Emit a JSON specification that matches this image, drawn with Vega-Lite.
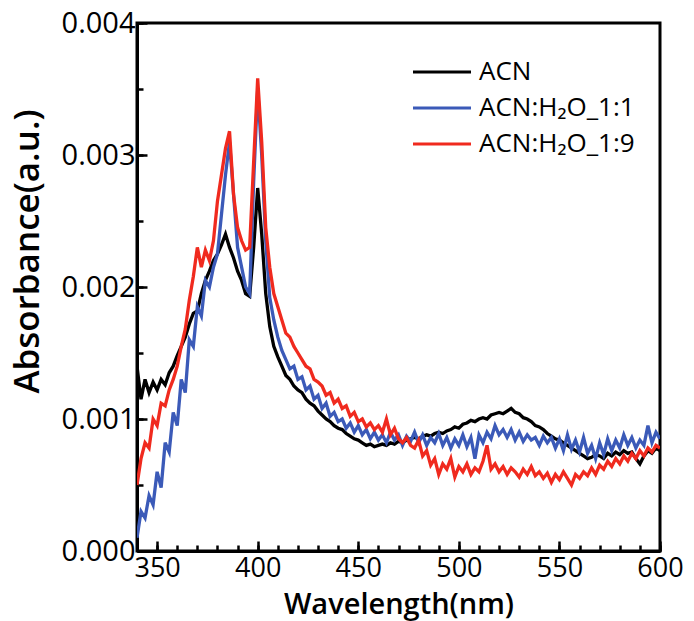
{
"$schema": "https://vega.github.io/schema/vega-lite/v6.json",
"width": 523, "height": 528,
"autosize": {"type": "none"},
"padding": {"left": 137, "top": 23, "right": 34, "bottom": 70},
"config": {"view": {"stroke": "black", "strokeWidth": 3}, "font": "Open Sans"},
"data": {"values": [
{"w":340,"ACN":0.00140,"ACN:H₂O_1:1":0.00010,"ACN:H₂O_1:9":0.00050},
{"w":342,"ACN":0.00115,"ACN:H₂O_1:1":0.00030,"ACN:H₂O_1:9":0.00070},
{"w":344,"ACN":0.00130,"ACN:H₂O_1:1":0.00025,"ACN:H₂O_1:9":0.00082},
{"w":346,"ACN":0.00120,"ACN:H₂O_1:1":0.00042,"ACN:H₂O_1:9":0.00078},
{"w":348,"ACN":0.00128,"ACN:H₂O_1:1":0.00035,"ACN:H₂O_1:9":0.00100},
{"w":350,"ACN":0.00122,"ACN:H₂O_1:1":0.00060,"ACN:H₂O_1:9":0.00095},
{"w":352,"ACN":0.00130,"ACN:H₂O_1:1":0.00048,"ACN:H₂O_1:9":0.00112},
{"w":354,"ACN":0.00126,"ACN:H₂O_1:1":0.00082,"ACN:H₂O_1:9":0.00110},
{"w":356,"ACN":0.00135,"ACN:H₂O_1:1":0.00075,"ACN:H₂O_1:9":0.00122},
{"w":358,"ACN":0.00140,"ACN:H₂O_1:1":0.00105,"ACN:H₂O_1:9":0.00130},
{"w":360,"ACN":0.00148,"ACN:H₂O_1:1":0.00095,"ACN:H₂O_1:9":0.00140},
{"w":362,"ACN":0.00155,"ACN:H₂O_1:1":0.00130,"ACN:H₂O_1:9":0.00155},
{"w":364,"ACN":0.00162,"ACN:H₂O_1:1":0.00120,"ACN:H₂O_1:9":0.00168},
{"w":366,"ACN":0.00172,"ACN:H₂O_1:1":0.00160,"ACN:H₂O_1:9":0.00190},
{"w":368,"ACN":0.00180,"ACN:H₂O_1:1":0.00155,"ACN:H₂O_1:9":0.00208},
{"w":370,"ACN":0.00182,"ACN:H₂O_1:1":0.00185,"ACN:H₂O_1:9":0.00230},
{"w":372,"ACN":0.00195,"ACN:H₂O_1:1":0.00178,"ACN:H₂O_1:9":0.00215},
{"w":374,"ACN":0.00205,"ACN:H₂O_1:1":0.00205,"ACN:H₂O_1:9":0.00228},
{"w":376,"ACN":0.00212,"ACN:H₂O_1:1":0.00200,"ACN:H₂O_1:9":0.00220},
{"w":378,"ACN":0.00220,"ACN:H₂O_1:1":0.00215,"ACN:H₂O_1:9":0.00235},
{"w":380,"ACN":0.00225,"ACN:H₂O_1:1":0.00225,"ACN:H₂O_1:9":0.00265},
{"w":382,"ACN":0.00232,"ACN:H₂O_1:1":0.00255,"ACN:H₂O_1:9":0.00285},
{"w":384,"ACN":0.00240,"ACN:H₂O_1:1":0.00285,"ACN:H₂O_1:9":0.00305},
{"w":386,"ACN":0.00230,"ACN:H₂O_1:1":0.00310,"ACN:H₂O_1:9":0.00318},
{"w":388,"ACN":0.00222,"ACN:H₂O_1:1":0.00270,"ACN:H₂O_1:9":0.00270},
{"w":390,"ACN":0.00212,"ACN:H₂O_1:1":0.00230,"ACN:H₂O_1:9":0.00245},
{"w":392,"ACN":0.00205,"ACN:H₂O_1:1":0.00215,"ACN:H₂O_1:9":0.00235},
{"w":394,"ACN":0.00195,"ACN:H₂O_1:1":0.00200,"ACN:H₂O_1:9":0.00228},
{"w":396,"ACN":0.00193,"ACN:H₂O_1:1":0.00195,"ACN:H₂O_1:9":0.00230},
{"w":398,"ACN":0.00230,"ACN:H₂O_1:1":0.00280,"ACN:H₂O_1:9":0.00295},
{"w":400,"ACN":0.00275,"ACN:H₂O_1:1":0.00350,"ACN:H₂O_1:9":0.00358},
{"w":402,"ACN":0.00240,"ACN:H₂O_1:1":0.00300,"ACN:H₂O_1:9":0.00310},
{"w":404,"ACN":0.00195,"ACN:H₂O_1:1":0.00235,"ACN:H₂O_1:9":0.00245},
{"w":406,"ACN":0.00170,"ACN:H₂O_1:1":0.00192,"ACN:H₂O_1:9":0.00215},
{"w":408,"ACN":0.00155,"ACN:H₂O_1:1":0.00175,"ACN:H₂O_1:9":0.00195},
{"w":410,"ACN":0.00147,"ACN:H₂O_1:1":0.00162,"ACN:H₂O_1:9":0.00185},
{"w":412,"ACN":0.00140,"ACN:H₂O_1:1":0.00152,"ACN:H₂O_1:9":0.00175},
{"w":414,"ACN":0.00133,"ACN:H₂O_1:1":0.00145,"ACN:H₂O_1:9":0.00165},
{"w":416,"ACN":0.00130,"ACN:H₂O_1:1":0.00138,"ACN:H₂O_1:9":0.00162},
{"w":418,"ACN":0.00125,"ACN:H₂O_1:1":0.00140,"ACN:H₂O_1:9":0.00155},
{"w":420,"ACN":0.00122,"ACN:H₂O_1:1":0.00130,"ACN:H₂O_1:9":0.00150},
{"w":422,"ACN":0.00120,"ACN:H₂O_1:1":0.00132,"ACN:H₂O_1:9":0.00145},
{"w":424,"ACN":0.00115,"ACN:H₂O_1:1":0.00122,"ACN:H₂O_1:9":0.00140},
{"w":426,"ACN":0.00112,"ACN:H₂O_1:1":0.00125,"ACN:H₂O_1:9":0.00138},
{"w":428,"ACN":0.00110,"ACN:H₂O_1:1":0.00115,"ACN:H₂O_1:9":0.00130},
{"w":430,"ACN":0.00106,"ACN:H₂O_1:1":0.00118,"ACN:H₂O_1:9":0.00128},
{"w":432,"ACN":0.00103,"ACN:H₂O_1:1":0.00108,"ACN:H₂O_1:9":0.00125},
{"w":434,"ACN":0.00100,"ACN:H₂O_1:1":0.00112,"ACN:H₂O_1:9":0.00118},
{"w":436,"ACN":0.00098,"ACN:H₂O_1:1":0.00102,"ACN:H₂O_1:9":0.00120},
{"w":438,"ACN":0.00095,"ACN:H₂O_1:1":0.00105,"ACN:H₂O_1:9":0.00112},
{"w":440,"ACN":0.00093,"ACN:H₂O_1:1":0.00098,"ACN:H₂O_1:9":0.00115},
{"w":442,"ACN":0.00092,"ACN:H₂O_1:1":0.00100,"ACN:H₂O_1:9":0.00108},
{"w":444,"ACN":0.00089,"ACN:H₂O_1:1":0.00093,"ACN:H₂O_1:9":0.00110},
{"w":446,"ACN":0.00087,"ACN:H₂O_1:1":0.00097,"ACN:H₂O_1:9":0.00102},
{"w":448,"ACN":0.00085,"ACN:H₂O_1:1":0.00090,"ACN:H₂O_1:9":0.00105},
{"w":450,"ACN":0.00084,"ACN:H₂O_1:1":0.00095,"ACN:H₂O_1:9":0.00098},
{"w":452,"ACN":0.00082,"ACN:H₂O_1:1":0.00088,"ACN:H₂O_1:9":0.00100},
{"w":454,"ACN":0.00080,"ACN:H₂O_1:1":0.00092,"ACN:H₂O_1:9":0.00094},
{"w":456,"ACN":0.00081,"ACN:H₂O_1:1":0.00085,"ACN:H₂O_1:9":0.00097},
{"w":458,"ACN":0.00079,"ACN:H₂O_1:1":0.00090,"ACN:H₂O_1:9":0.00092},
{"w":460,"ACN":0.00080,"ACN:H₂O_1:1":0.00084,"ACN:H₂O_1:9":0.00095},
{"w":462,"ACN":0.00081,"ACN:H₂O_1:1":0.00088,"ACN:H₂O_1:9":0.00090},
{"w":464,"ACN":0.00080,"ACN:H₂O_1:1":0.00082,"ACN:H₂O_1:9":0.00100},
{"w":466,"ACN":0.00082,"ACN:H₂O_1:1":0.00090,"ACN:H₂O_1:9":0.00088},
{"w":468,"ACN":0.00081,"ACN:H₂O_1:1":0.00084,"ACN:H₂O_1:9":0.00093},
{"w":470,"ACN":0.00083,"ACN:H₂O_1:1":0.00088,"ACN:H₂O_1:9":0.00085},
{"w":472,"ACN":0.00082,"ACN:H₂O_1:1":0.00080,"ACN:H₂O_1:9":0.00082},
{"w":474,"ACN":0.00084,"ACN:H₂O_1:1":0.00087,"ACN:H₂O_1:9":0.00086},
{"w":476,"ACN":0.00085,"ACN:H₂O_1:1":0.00083,"ACN:H₂O_1:9":0.00080},
{"w":478,"ACN":0.00086,"ACN:H₂O_1:1":0.00090,"ACN:H₂O_1:9":0.00078},
{"w":480,"ACN":0.00085,"ACN:H₂O_1:1":0.00082,"ACN:H₂O_1:9":0.00084},
{"w":482,"ACN":0.00087,"ACN:H₂O_1:1":0.00088,"ACN:H₂O_1:9":0.00072},
{"w":484,"ACN":0.00088,"ACN:H₂O_1:1":0.00080,"ACN:H₂O_1:9":0.00076},
{"w":486,"ACN":0.00087,"ACN:H₂O_1:1":0.00086,"ACN:H₂O_1:9":0.00065},
{"w":488,"ACN":0.00089,"ACN:H₂O_1:1":0.00082,"ACN:H₂O_1:9":0.00070},
{"w":490,"ACN":0.00090,"ACN:H₂O_1:1":0.00089,"ACN:H₂O_1:9":0.00058},
{"w":492,"ACN":0.00089,"ACN:H₂O_1:1":0.00080,"ACN:H₂O_1:9":0.00066},
{"w":494,"ACN":0.00091,"ACN:H₂O_1:1":0.00086,"ACN:H₂O_1:9":0.00062},
{"w":496,"ACN":0.00092,"ACN:H₂O_1:1":0.00078,"ACN:H₂O_1:9":0.00070},
{"w":498,"ACN":0.00094,"ACN:H₂O_1:1":0.00085,"ACN:H₂O_1:9":0.00056},
{"w":500,"ACN":0.00093,"ACN:H₂O_1:1":0.00080,"ACN:H₂O_1:9":0.00064},
{"w":502,"ACN":0.00096,"ACN:H₂O_1:1":0.00088,"ACN:H₂O_1:9":0.00060},
{"w":504,"ACN":0.00097,"ACN:H₂O_1:1":0.00079,"ACN:H₂O_1:9":0.00066},
{"w":506,"ACN":0.00099,"ACN:H₂O_1:1":0.00086,"ACN:H₂O_1:9":0.00058},
{"w":508,"ACN":0.00098,"ACN:H₂O_1:1":0.00070,"ACN:H₂O_1:9":0.00063},
{"w":510,"ACN":0.00100,"ACN:H₂O_1:1":0.00088,"ACN:H₂O_1:9":0.00060},
{"w":512,"ACN":0.00101,"ACN:H₂O_1:1":0.00082,"ACN:H₂O_1:9":0.00068},
{"w":514,"ACN":0.00100,"ACN:H₂O_1:1":0.00090,"ACN:H₂O_1:9":0.00080},
{"w":516,"ACN":0.00103,"ACN:H₂O_1:1":0.00085,"ACN:H₂O_1:9":0.00062},
{"w":518,"ACN":0.00104,"ACN:H₂O_1:1":0.00095,"ACN:H₂O_1:9":0.00066},
{"w":520,"ACN":0.00105,"ACN:H₂O_1:1":0.00088,"ACN:H₂O_1:9":0.00060},
{"w":522,"ACN":0.00104,"ACN:H₂O_1:1":0.00092,"ACN:H₂O_1:9":0.00064},
{"w":524,"ACN":0.00106,"ACN:H₂O_1:1":0.00086,"ACN:H₂O_1:9":0.00058},
{"w":526,"ACN":0.00108,"ACN:H₂O_1:1":0.00092,"ACN:H₂O_1:9":0.00063},
{"w":528,"ACN":0.00105,"ACN:H₂O_1:1":0.00084,"ACN:H₂O_1:9":0.00060},
{"w":530,"ACN":0.00104,"ACN:H₂O_1:1":0.00090,"ACN:H₂O_1:9":0.00056},
{"w":532,"ACN":0.00101,"ACN:H₂O_1:1":0.00083,"ACN:H₂O_1:9":0.00062},
{"w":534,"ACN":0.00100,"ACN:H₂O_1:1":0.00088,"ACN:H₂O_1:9":0.00058},
{"w":536,"ACN":0.00098,"ACN:H₂O_1:1":0.00084,"ACN:H₂O_1:9":0.00064},
{"w":538,"ACN":0.00095,"ACN:H₂O_1:1":0.00086,"ACN:H₂O_1:9":0.00057},
{"w":540,"ACN":0.00094,"ACN:H₂O_1:1":0.00080,"ACN:H₂O_1:9":0.00060},
{"w":542,"ACN":0.00092,"ACN:H₂O_1:1":0.00087,"ACN:H₂O_1:9":0.00055},
{"w":544,"ACN":0.00089,"ACN:H₂O_1:1":0.00082,"ACN:H₂O_1:9":0.00059},
{"w":546,"ACN":0.00087,"ACN:H₂O_1:1":0.00086,"ACN:H₂O_1:9":0.00052},
{"w":548,"ACN":0.00085,"ACN:H₂O_1:1":0.00078,"ACN:H₂O_1:9":0.00058},
{"w":550,"ACN":0.00084,"ACN:H₂O_1:1":0.00085,"ACN:H₂O_1:9":0.00054},
{"w":552,"ACN":0.00082,"ACN:H₂O_1:1":0.00076,"ACN:H₂O_1:9":0.00060},
{"w":554,"ACN":0.00080,"ACN:H₂O_1:1":0.00088,"ACN:H₂O_1:9":0.00055},
{"w":556,"ACN":0.00078,"ACN:H₂O_1:1":0.00077,"ACN:H₂O_1:9":0.00050},
{"w":558,"ACN":0.00076,"ACN:H₂O_1:1":0.00084,"ACN:H₂O_1:9":0.00058},
{"w":560,"ACN":0.00074,"ACN:H₂O_1:1":0.00075,"ACN:H₂O_1:9":0.00055},
{"w":562,"ACN":0.00072,"ACN:H₂O_1:1":0.00086,"ACN:H₂O_1:9":0.00060},
{"w":564,"ACN":0.00070,"ACN:H₂O_1:1":0.00074,"ACN:H₂O_1:9":0.00057},
{"w":566,"ACN":0.00071,"ACN:H₂O_1:1":0.00080,"ACN:H₂O_1:9":0.00063},
{"w":568,"ACN":0.00073,"ACN:H₂O_1:1":0.00070,"ACN:H₂O_1:9":0.00058},
{"w":570,"ACN":0.00072,"ACN:H₂O_1:1":0.00082,"ACN:H₂O_1:9":0.00065},
{"w":572,"ACN":0.00070,"ACN:H₂O_1:1":0.00073,"ACN:H₂O_1:9":0.00062},
{"w":574,"ACN":0.00074,"ACN:H₂O_1:1":0.00085,"ACN:H₂O_1:9":0.00068},
{"w":576,"ACN":0.00072,"ACN:H₂O_1:1":0.00076,"ACN:H₂O_1:9":0.00064},
{"w":578,"ACN":0.00075,"ACN:H₂O_1:1":0.00084,"ACN:H₂O_1:9":0.00070},
{"w":580,"ACN":0.00073,"ACN:H₂O_1:1":0.00078,"ACN:H₂O_1:9":0.00066},
{"w":582,"ACN":0.00076,"ACN:H₂O_1:1":0.00088,"ACN:H₂O_1:9":0.00072},
{"w":584,"ACN":0.00074,"ACN:H₂O_1:1":0.00080,"ACN:H₂O_1:9":0.00068},
{"w":586,"ACN":0.00075,"ACN:H₂O_1:1":0.00086,"ACN:H₂O_1:9":0.00074},
{"w":588,"ACN":0.00070,"ACN:H₂O_1:1":0.00078,"ACN:H₂O_1:9":0.00070},
{"w":590,"ACN":0.00066,"ACN:H₂O_1:1":0.00084,"ACN:H₂O_1:9":0.00076},
{"w":592,"ACN":0.00072,"ACN:H₂O_1:1":0.00080,"ACN:H₂O_1:9":0.00072},
{"w":594,"ACN":0.00076,"ACN:H₂O_1:1":0.00095,"ACN:H₂O_1:9":0.00078},
{"w":596,"ACN":0.00074,"ACN:H₂O_1:1":0.00082,"ACN:H₂O_1:9":0.00075},
{"w":598,"ACN":0.00078,"ACN:H₂O_1:1":0.00090,"ACN:H₂O_1:9":0.00080},
{"w":600,"ACN":0.00076,"ACN:H₂O_1:1":0.00085,"ACN:H₂O_1:9":0.00078}
]},
"transform": [{"fold": ["ACN", "ACN:H₂O_1:1", "ACN:H₂O_1:9"], "as": ["series", "a"]}],
"layer": [
{
"mark": {"type": "line", "strokeWidth": 3.3, "clip": true},
"encoding": {
"x": {"field": "w", "type": "quantitative", "scale": {"domain": [340, 600], "nice": false, "zero": false},
 "axis": {"orient": "bottom", "values": [350, 400, 450, 500, 550, 600], "title": "Wavelength(nm)", "grid": false,
  "tickSize": -10, "tickWidth": 2.5, "tickColor": "black", "domainColor": "black", "domainWidth": 3,
  "labelFont": "Open Sans", "labelFontSize": 27, "labelColor": "black", "labelPadding": 14, "labelFlush": false,
  "titleFont": "Open Sans", "titleFontSize": 29, "titleFontWeight": 600, "titleColor": "black", "titlePadding": 9}},
"y": {"field": "a", "type": "quantitative", "scale": {"domain": [0, 0.004], "nice": false, "zero": false},
 "axis": {"orient": "left", "values": [0, 0.001, 0.002, 0.003, 0.004], "format": ".3f", "title": "Absorbance(a.u.)", "grid": false,
  "tickSize": -10, "tickWidth": 2.5, "tickColor": "black", "domainColor": "black", "domainWidth": 3,
  "labelFont": "Open Sans", "labelFontSize": 29, "labelColor": "black", "labelPadding": 12, "labelFlush": false,
  "titleFont": "Open Sans", "titleFontSize": 35, "titleFontWeight": 600, "titleColor": "black",
  "titleX": -92, "titleY": 228, "titleAngle": -90, "titleBaseline": "bottom", "titleAlign": "center"}},
"color": {"field": "series", "type": "nominal",
 "scale": {"domain": ["ACN", "ACN:H₂O_1:1", "ACN:H₂O_1:9"], "range": ["#000000", "#3b5ab8", "#f02a1e"]},
 "legend": {"title": null, "orient": "none", "legendX": 289, "legendY": 33, "symbolType": "M-2,0H2", "symbolStrokeWidth": 3,
  "symbolSize": 841, "symbolFillColor": "transparent", "labelFont": "Open Sans", "labelFontSize": 26, "labelColor": "black", "labelOffset": 21, "rowPadding": 7}}
}
},
{
"mark": {"type": "line", "opacity": 0},
"encoding": {
"x": {"field": "w", "type": "quantitative", "scale": {"domain": [340, 600], "nice": false, "zero": false},
 "axis": {"orient": "bottom", "values": [340, 350, 360, 370, 380, 390, 400, 410, 420, 430, 440, 450, 460, 470, 480, 490, 500, 510, 520, 530, 540, 550, 560, 570, 580, 590, 600],
  "labels": false, "title": null, "domain": false, "grid": false, "tickSize": -6, "tickWidth": 2.5, "tickColor": "black"}},
"y": {"field": "a", "type": "quantitative", "scale": {"domain": [0, 0.004], "nice": false, "zero": false},
 "axis": {"orient": "left", "values": [0, 0.0005, 0.001, 0.0015, 0.002, 0.0025, 0.003, 0.0035, 0.004],
  "labels": false, "title": null, "domain": false, "grid": false, "tickSize": -6, "tickWidth": 2.5, "tickColor": "black"}}
}
}
],
"resolve": {"axis": {"x": "independent", "y": "independent"}}
}
